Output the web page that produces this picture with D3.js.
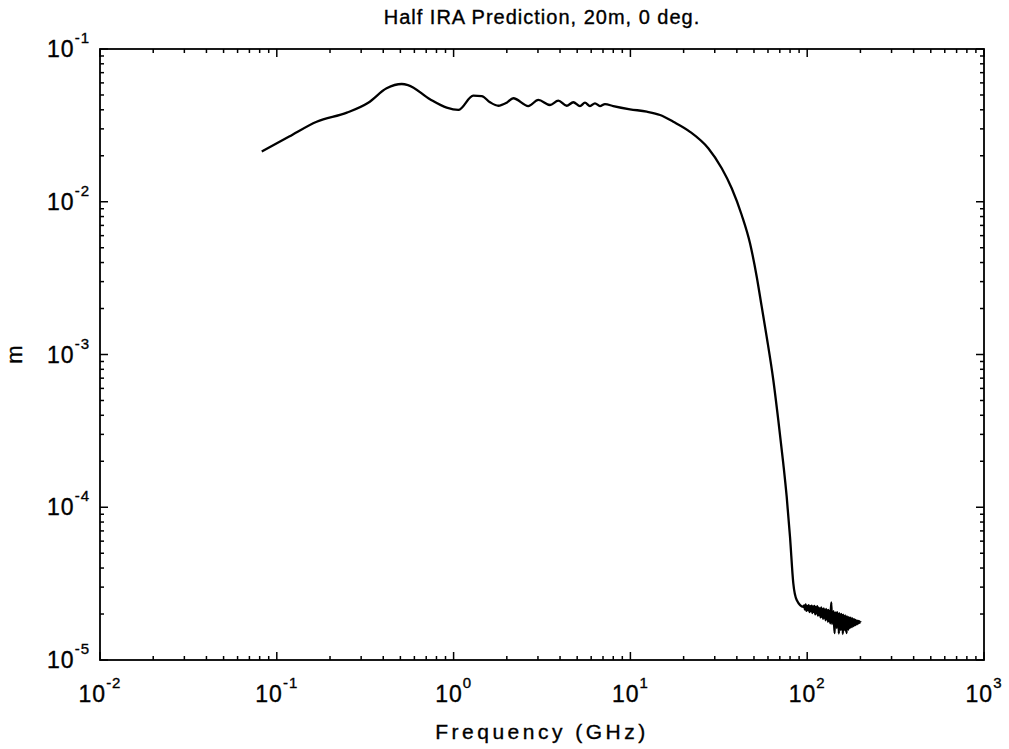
<!DOCTYPE html>
<html lang="en">
<head>
    <meta charset="UTF-8">
    <title>Half IRA Prediction, 20m, 0 deg.</title>
    <script src="https://d3js.org/d3.v7.min.js"></script>
    <style>
        body { margin: 0; background: white; }
        svg { font-family: "Liberation Sans", Arial, sans-serif; }
        text { fill: black; stroke: black; stroke-width: 0.35px; }
    </style>
</head>
<body>
    <svg width="1009" height="749"></svg>

    <script>
        // frequency (GHz) and response (m)
        const freqGHz = [
            0.0822, 0.1175, 0.168, 0.249, 0.329, 0.418, 0.509, 0.552, 0.735, 0.914, 1.063,
            1.292, 1.442, 1.607, 1.790, 1.997, 2.176, 2.645, 3.014, 3.509, 3.910,
            4.362, 4.754, 5.187, 5.536, 5.907, 6.305, 6.730, 7.183, 8.003, 9.95,
            12.37, 14.71, 17.48, 21.74, 27.57, 32.85, 37.41, 42.61, 47.48, 51.82,
            55.30, 59.02, 64.31, 68.63, 73.22, 76.56, 79.93, 83.44, 87.22, 95.06
        ];
        const heightM = [
            0.0213, 0.0267, 0.0334, 0.0383, 0.0445, 0.0553, 0.0590, 0.0581, 0.0469, 0.0413, 0.0399,
            0.0495, 0.0492, 0.0448, 0.0425, 0.0445, 0.0476, 0.0423, 0.0464, 0.0430, 0.0459,
            0.0425, 0.0448, 0.0423, 0.0445, 0.0423, 0.0441, 0.0423, 0.0436, 0.0423, 0.0403,
            0.0389, 0.0370, 0.0334, 0.0287, 0.0224, 0.01656, 0.01225, 0.00819, 0.00535, 0.00323,
            0.002056, 0.001302, 0.000681, 0.000372, 0.000194, 0.0001172, 6.41e-5, 3.18e-5, 2.47e-5, 2.23e-5
        ];

        // noisy floor above ~95 GHz (values in units of 1e-5 m)
        const tailFreqGHz = [
            96, 97, 98, 99, 100, 101, 102, 103, 104, 105,
            106, 107, 108, 109, 110, 111, 112, 113, 114, 115,
            116, 117, 118, 119, 120, 121, 122, 123, 124, 125,
            126, 127, 128, 129, 130, 131, 132, 133, 134, 135,
            136, 137, 138, 139, 140, 141, 142, 143, 144, 145,
            146, 147, 148, 149, 150, 151, 152, 153, 154, 155,
            156, 157, 158, 159, 160, 161, 162, 163, 164, 165,
            166, 167, 168, 169, 170, 171, 172, 173, 174, 175,
            176, 177, 178, 179, 180, 181, 182, 183, 184, 185,
            186, 187, 188, 189, 190, 191, 192, 193, 194, 195,
            196, 197, 198, 199, 200, 201
        ];
        const tailHeight = [
            2.28, 2.14, 2.31, 2.10, 2.26, 2.12, 2.29, 2.06, 2.25, 2.09,
            2.27, 2.03, 2.24, 2.07, 2.26, 1.99, 2.22, 2.02, 2.25, 1.95,
            2.20, 1.97, 2.18, 1.90, 2.21, 1.92, 2.16, 1.86, 2.18, 1.89,
            2.14, 1.82, 2.16, 1.85, 2.12, 1.78, 2.13, 1.80, 2.09, 1.74,
            2.11, 2.38, 1.72, 2.07, 1.76, 2.09, 1.69, 1.50, 2.05, 1.66,
            2.04, 1.62, 2.06, 1.65, 2.01, 1.49, 2.03, 1.60, 1.99, 1.57,
            2.00, 1.60, 1.97, 1.48, 1.98, 1.56, 1.94, 1.59, 1.96, 1.55,
            1.92, 1.50, 1.93, 1.60, 1.90, 1.58, 1.91, 1.62, 1.88, 1.63,
            1.89, 1.66, 1.86, 1.64, 1.87, 1.68, 1.84, 1.67, 1.85, 1.70,
            1.82, 1.69, 1.83, 1.72, 1.80, 1.71, 1.81, 1.73, 1.79, 1.74,
            1.80, 1.75, 1.78, 1.76, 1.77, 1.76
        ];

        const xExponents = [-2, -1, 0, 1, 2, 3];
        const yExponents = [-1, -2, -3, -4, -5];

        const title = "Half IRA Prediction, 20m, 0 deg.";
        const xTitle = "Frequency (GHz)";
        const yTitle = "m";

        const svg = d3.select("svg");
        const plotL = 100, plotR = 984, plotT = 49, plotB = 660;

        const x = d3.scaleLog().domain([1e-2, 1e3]).range([plotL, plotR]);
        const y = d3.scaleLog().domain([1e-5, 1e-1]).range([plotB, plotT]);

        // build points
        const points = freqGHz.map((f, i) => [f, heightM[i]])
            .concat(tailFreqGHz.map((f, i) => [f, tailHeight[i] * 1e-5]));

        // frame
        svg.append("rect")
            .attr("x", plotL).attr("y", plotT)
            .attr("width", plotR - plotL).attr("height", plotB - plotT)
            .attr("fill", "none")
            .attr("stroke", "black")
            .attr("stroke-width", 1.8);

        // log ticks on all four sides, pointing inward
        const xTicks = [];
        for (let e = -2; e < 3; e++) {
            for (let k = 1; k < 10; k++) xTicks.push({ v: k * Math.pow(10, e), major: k === 1 });
        }
        xTicks.push({ v: 1e3, major: true });
        const yTicks = [];
        for (let e = -5; e < -1; e++) {
            for (let k = 1; k < 10; k++) yTicks.push({ v: k * Math.pow(10, e), major: k === 1 });
        }
        yTicks.push({ v: 1e-1, major: true });

        const tickG = svg.append("g").attr("stroke", "black").attr("stroke-width", 1.5);
        xTicks.forEach(t => {
            const len = t.major ? 8 : 4;
            const px = x(t.v);
            tickG.append("line").attr("x1", px).attr("x2", px).attr("y1", plotB).attr("y2", plotB - len);
            tickG.append("line").attr("x1", px).attr("x2", px).attr("y1", plotT).attr("y2", plotT + len);
        });
        yTicks.forEach(t => {
            const len = t.major ? 8 : 4;
            const py = y(t.v);
            tickG.append("line").attr("x1", plotL).attr("x2", plotL + len).attr("y1", py).attr("y2", py);
            tickG.append("line").attr("x1", plotR).attr("x2", plotR - len).attr("y1", py).attr("y2", py);
        });

        // tick labels
        xExponents.forEach(e => {
            const t = svg.append("text")
                .attr("x", x(Math.pow(10, e)))
                .attr("y", 702)
                .attr("text-anchor", "middle")
                .attr("font-size", 23)
                .attr("letter-spacing", 1);
            t.append("tspan").text("10");
            t.append("tspan").attr("dy", -14).attr("font-size", 15).text(e);
        });
        yExponents.forEach(e => {
            const t = svg.append("text")
                .attr("x", 90)
                .attr("y", y(Math.pow(10, e)) + 8)
                .attr("text-anchor", "end")
                .attr("font-size", 23)
                .attr("letter-spacing", 1);
            t.append("tspan").text("10");
            t.append("tspan").attr("dy", -14).attr("font-size", 15).text(e);
        });

        // titles
        svg.append("text")
            .attr("x", (plotL + plotR) / 2).attr("y", 24)
            .attr("text-anchor", "middle")
            .attr("font-size", 20)
            .attr("letter-spacing", 1)
            .text(title);
        svg.append("text")
            .attr("x", (plotL + plotR) / 2).attr("y", 739)
            .attr("text-anchor", "middle")
            .attr("font-size", 21)
            .attr("letter-spacing", 3.5)
            .text(xTitle);
        svg.append("text")
            .attr("transform", `translate(22, ${(plotT + plotB) / 2}) rotate(-90)`)
            .attr("text-anchor", "middle")
            .attr("font-size", 22)
            .text(yTitle);

        // curve
        const line = d3.line()
            .x(d => x(d[0]))
            .y(d => y(d[1]))
            .curve(d3.curveMonotoneX);

        svg.append("path")
            .datum(points)
            .attr("d", line)
            .attr("fill", "none")
            .attr("stroke", "black")
            .attr("stroke-width", 2.3)
            .attr("stroke-linejoin", "round");
    </script>
</body>
</html>
